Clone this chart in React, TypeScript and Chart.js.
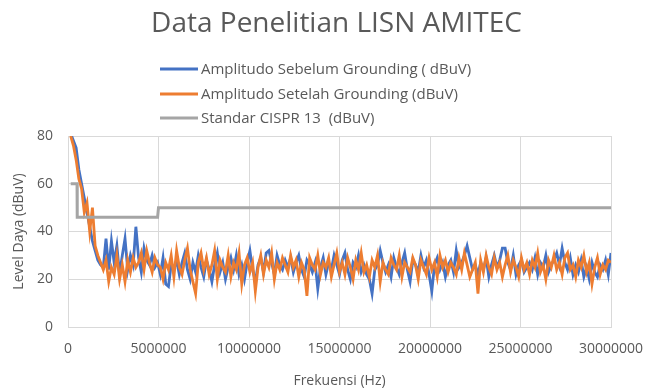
import React, { useEffect, useRef } from "react";
import { Chart, registerables } from "chart.js";

Chart.register(...registerables);

const chartTitle = "Data Penelitian LISN AMITEC";
const xTitle = "Frekuensi (Hz)";
const yTitle = "Level Daya (dBuV)";
const seriesNames = [
  "Amplitudo Sebelum Grounding ( dBuV)",
  "Amplitudo Setelah Grounding (dBuV)",
  "Standar CISPR 13  (dBuV)",
];

const frequencies = [
  150000, 300000, 450000, 600000, 750000, 900000, 1050000, 1200000, 1350000, 1500000,
  1650000, 1800000, 1950000, 2100000, 2250000, 2400000, 2550000, 2700000, 2850000, 3000000,
  3150000, 3300000, 3450000, 3600000, 3750000, 3900000, 4050000, 4200000, 4350000, 4500000,
  4650000, 4800000, 4950000, 5100000, 5250000, 5400000, 5550000, 5700000, 5850000, 6000000,
  6150000, 6300000, 6450000, 6600000, 6750000, 6900000, 7050000, 7200000, 7350000, 7500000,
  7650000, 7800000, 7950000, 8100000, 8250000, 8400000, 8550000, 8700000, 8850000, 9000000,
  9150000, 9300000, 9450000, 9600000, 9750000, 9900000, 10050000, 10200000, 10350000, 10500000,
  10650000, 10800000, 10950000, 11100000, 11250000, 11400000, 11550000, 11700000, 11850000, 12000000,
  12150000, 12300000, 12450000, 12600000, 12750000, 12900000, 13050000, 13200000, 13350000, 13500000,
  13650000, 13800000, 13950000, 14100000, 14250000, 14400000, 14550000, 14700000, 14850000, 15000000,
  15150000, 15300000, 15450000, 15600000, 15750000, 15900000, 16050000, 16200000, 16350000, 16500000,
  16650000, 16800000, 16950000, 17100000, 17250000, 17400000, 17550000, 17700000, 17850000, 18000000,
  18150000, 18300000, 18450000, 18600000, 18750000, 18900000, 19050000, 19200000, 19350000, 19500000,
  19650000, 19800000, 19950000, 20100000, 20250000, 20400000, 20550000, 20700000, 20850000, 21000000,
  21150000, 21300000, 21450000, 21600000, 21750000, 21900000, 22050000, 22200000, 22350000, 22500000,
  22650000, 22800000, 22950000, 23100000, 23250000, 23400000, 23550000, 23700000, 23850000, 24000000,
  24150000, 24300000, 24450000, 24600000, 24750000, 24900000, 25050000, 25200000, 25350000, 25500000,
  25650000, 25800000, 25950000, 26100000, 26250000, 26400000, 26550000, 26700000, 26850000, 27000000,
  27150000, 27300000, 27450000, 27600000, 27750000, 27900000, 28050000, 28200000, 28350000, 28500000,
  28650000, 28800000, 28950000, 29100000, 29250000, 29400000, 29550000, 29700000, 29850000, 30000000,
];

const sebelum = [
  81, 78, 75, 66, 60, 54, 48, 42, 36, 32,
  28, 26, 25, 37, 24, 36, 27, 34, 22, 30,
  37, 24, 30, 26, 42, 29, 23, 33, 28, 26,
  30, 25, 27, 22, 29, 18, 17, 26, 24, 28,
  22, 27, 31, 24, 20, 27, 23, 30, 25, 21,
  28, 24, 19, 26, 31, 23, 27, 20, 25, 29,
  24, 30, 22, 26, 20, 27, 32, 24, 19, 26,
  29, 23, 31, 32, 27, 22, 30, 26, 24, 28,
  25, 29, 23, 27, 30, 24, 21, 28, 26, 23,
  27, 16, 25, 29, 22, 27, 24, 30, 26, 22,
  28, 31, 24, 20, 27, 25, 30, 23, 26, 22,
  20, 14, 24, 26, 32, 27, 23, 26, 21, 29,
  25, 22, 27, 31, 24, 19, 28, 26, 23, 30,
  25, 28, 22, 15, 26, 29, 24, 27, 21, 26,
  28, 23, 32, 25, 27, 30, 34, 29, 24, 26,
  22, 27, 24, 29, 21, 26, 30, 25, 28, 33,
  33, 27, 24, 30, 22, 26, 28, 23, 25, 27,
  24, 29, 22, 27, 25, 30, 23, 26, 28, 31,
  26, 33, 27, 24, 29, 22, 26, 23, 28, 21,
  25, 20, 27, 23, 21, 26, 24, 28, 22, 31,
];

const setelah = [
  80, 76, 70, 62, 58, 48, 52, 40, 50, 34,
  30, 27, 24, 28, 19, 25, 22, 30, 20, 26,
  19, 28, 23, 29, 25, 27, 31, 24, 32, 27,
  23, 29, 26, 25, 20, 27, 24, 30, 21, 32,
  25, 22, 28, 33, 24, 19, 14, 27, 31, 24,
  29, 22, 26, 32, 20, 28, 25, 23, 30, 21,
  27, 24, 31, 18, 26, 29, 23, 27, 15, 25,
  30, 22, 28, 25, 31, 20, 27, 24, 29, 26,
  23, 30, 25, 28, 21, 27, 24, 13, 29, 26,
  24, 30, 22, 27, 25, 29, 21, 26, 31, 23,
  27, 22, 29, 25, 20, 28, 24, 31, 23, 26,
  21, 28, 25, 30, 19, 27, 24, 22, 29, 26,
  24, 30, 21, 27, 25, 23, 29, 26, 20, 28,
  25, 22, 29, 24, 27, 21, 30, 25, 28, 23,
  27, 25, 22, 29, 24, 31, 26, 21, 24, 27,
  14, 28, 23, 30, 25, 22, 29, 24, 27, 21,
  26, 30, 23, 28, 25, 21, 29, 24, 27, 22,
  28, 25, 31, 23, 26, 20, 28, 25, 30, 24,
  27, 22, 29, 31, 24, 26, 21, 28, 25, 30,
  23, 27, 18, 25, 29, 22, 26, 24, 28, 27,
];

const standarFreq = [150000, 500000, 510000, 4950000, 5000000, 30000000];
const standarLevel = [60, 60, 46, 46, 50, 50];

const xTicks = [0, 5000000, 10000000, 15000000, 20000000, 25000000, 30000000];
const yTicks = [0, 20, 40, 60, 80];

const FONT = "'Open Sans', sans-serif";
const TEXT = "#595959";
const GRID = "#d9d9d9";

const titleAndLegend = {
  id: "titleAndLegend",
  afterDraw(chart: any) {
    const ctx = chart.ctx;
    ctx.save();
    // title, centred over the plot area
    ctx.font = `28px ${FONT}`;
    ctx.fillStyle = TEXT;
    ctx.textAlign = "center";
    ctx.textBaseline = "middle";
    const cx = (chart.chartArea.left + chart.chartArea.right) / 2 - 3;
    ctx.fillText(chartTitle, cx, 24);
    // stacked legend
    const x0 = 160;
    const lineLen = 38;
    const rows = [69, 94, 118];
    ctx.font = `15px ${FONT}`;
    ctx.textAlign = "left";
    chart.data.datasets.forEach((ds: any, i: number) => {
      const y = rows[i];
      ctx.strokeStyle = ds.borderColor;
      ctx.lineWidth = 3;
      ctx.beginPath();
      ctx.moveTo(x0, y);
      ctx.lineTo(x0 + lineLen, y);
      ctx.stroke();
      ctx.fillStyle = TEXT;
      ctx.fillText(ds.label, x0 + lineLen + 3, y + 1);
    });
    ctx.restore();
  },
};

export default function App() {
  const ref = useRef<HTMLCanvasElement>(null);

  useEffect(() => {
    document.body.style.margin = "0";
    const canvas = ref.current!;
    const chart = new Chart(canvas, {
      type: "line",
      data: {
        datasets: [
          {
            label: seriesNames[0],
            data: frequencies.map((f, i) => ({ x: f, y: sebelum[i] })),
            borderColor: "#4472C4",
            backgroundColor: "#4472C4",
            borderWidth: 2.8,
            pointRadius: 0,
            order: 3,
          },
          {
            label: seriesNames[1],
            data: frequencies.map((f, i) => ({ x: f, y: setelah[i] })),
            borderColor: "#ED7D31",
            backgroundColor: "#ED7D31",
            borderWidth: 2.8,
            pointRadius: 0,
            order: 2,
          },
          {
            label: seriesNames[2],
            data: standarFreq.map((f, i) => ({ x: f, y: standarLevel[i] })),
            borderColor: "#A5A5A5",
            backgroundColor: "#A5A5A5",
            borderWidth: 3,
            pointRadius: 0,
            order: 1,
          },
        ],
      },
      options: {
        responsive: false,
        animation: false,
        devicePixelRatio: 1,
        layout: { padding: { left: 0, right: 36, top: 136, bottom: 0 } },
        plugins: {
          legend: { display: false },
          tooltip: { enabled: false },
          title: { display: false },
        },
        scales: {
          x: {
            type: "linear",
            min: 0,
            max: 30000000,
            afterBuildTicks: (scale: any) => {
              scale.ticks = xTicks.map((v) => ({ value: v }));
            },
            afterFit: (scale: any) => {
              scale.height = 64;
              scale.paddingRight = 20;
              scale.paddingLeft = 0;
            },
            ticks: {
              color: TEXT,
              font: { family: FONT, size: 14 },
              padding: 14,
              maxRotation: 0,
              autoSkip: false,
              callback: (v: any) => String(v),
            },
            grid: { color: GRID, drawTicks: false, lineWidth: 1 },
            border: { color: GRID },
            title: {
              display: true,
              text: xTitle,
              color: TEXT,
              font: { family: FONT, size: 14 },
              padding: { top: 4, bottom: 2 },
            },
          },
          y: {
            min: 0,
            max: 80,
            afterBuildTicks: (scale: any) => {
              scale.ticks = yTicks.map((v) => ({ value: v }));
            },
            afterFit: (scale: any) => {
              scale.width = 68;
              scale.paddingTop = 0;
            },
            ticks: {
              color: TEXT,
              font: { family: FONT, size: 14 },
              padding: 15,
              callback: (v: any) => String(v),
            },
            grid: { color: GRID, drawTicks: false, lineWidth: 1 },
            border: { color: GRID },
            title: {
              display: true,
              text: yTitle,
              color: TEXT,
              font: { family: FONT, size: 14 },
              padding: { top: 11, bottom: 2 },
            },
          },
        },
      },
      plugins: [titleAndLegend],
    } as any);
    return () => chart.destroy();
  }, []);

  return (
    <div style={{ position: "absolute", left: 0, top: 0, width: 647, height: 391, background: "#fff" }}>
      <canvas ref={ref} width={647} height={391} />
    </div>
  );
}
